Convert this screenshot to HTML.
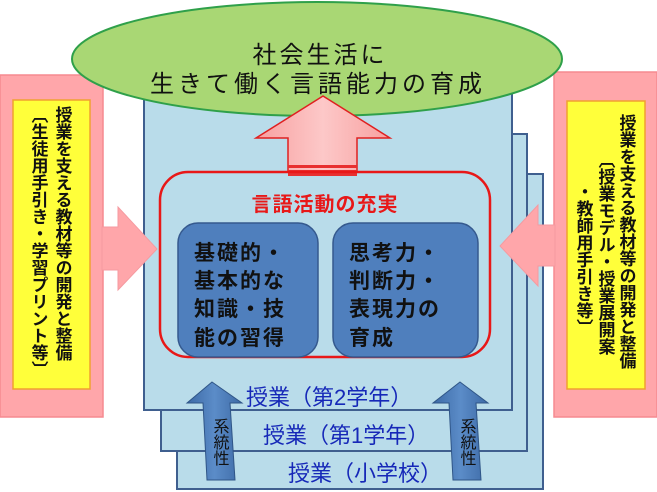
<!DOCTYPE html>
<html><head><meta charset="utf-8"><style>
html,body{margin:0;padding:0;background:#fff;}
svg{display:block;font-family:"Liberation Sans","Noto Sans CJK JP",sans-serif;}
</style></head><body>
<svg width="657" height="492" viewBox="0 0 657 492" xmlns="http://www.w3.org/2000/svg">
<defs>
<linearGradient id="bl" x1="0" y1="0" x2="1" y2="0"><stop offset="0" stop-color="#3d6aa6"/><stop offset="0.5" stop-color="#5b8cc8"/><stop offset="1" stop-color="#3d6aa6"/></linearGradient>
<linearGradient id="rd" x1="0" y1="0" x2="1" y2="0"><stop offset="0" stop-color="#f7a0a0"/><stop offset="0.5" stop-color="#fdc8c8"/><stop offset="1" stop-color="#f7a0a0"/></linearGradient>
</defs>
<rect x="177" y="174" width="366" height="315" fill="#b9dcea" stroke="#3f5f8f" stroke-width="2"/>
<rect x="161" y="134" width="366" height="317" fill="#b9dcea" stroke="#3f5f8f" stroke-width="2"/>
<rect x="144" y="80" width="368" height="330" fill="#b9dcea" stroke="#3f5f8f" stroke-width="2"/>
<rect x="0" y="75" width="103" height="342" fill="#ffa6aa" stroke="#f58a90" stroke-width="1.5"/>
<rect x="13" y="100" width="77" height="289" fill="#ffff3a" stroke="#f0a030" stroke-width="1.5"/>
<rect x="554" y="72" width="103" height="345" fill="#ffa6aa" stroke="#f58a90" stroke-width="1.5"/>
<rect x="567" y="101" width="78" height="288" fill="#ffff3a" stroke="#f0a030" stroke-width="1.5"/>
<polygon points="102,227 118,227 118,207 157,249 118,290 118,270 102,270" fill="#ffa6aa" stroke="#f59aa0" stroke-width="1"/>
<polygon points="555,225 538,225 538,205 500,246 538,286 538,266 555,266" fill="#ffa6aa" stroke="#f59aa0" stroke-width="1"/>
<ellipse cx="317" cy="59" rx="245" ry="57" fill="#a9d774" stroke="#2fa04a" stroke-width="2"/>
<text x="320" y="63" font-size="24" text-anchor="middle" fill="#111" letter-spacing="3">社会生活に</text>
<text x="318" y="92" font-size="24" text-anchor="middle" fill="#111" letter-spacing="4">生きて働く言語能力の育成</text>
<polygon points="323,96 390,138 357,138 357,172 288,172 288,138 256,138" fill="url(#rd)" stroke="#e02020" stroke-width="1.5"/>
<rect x="288" y="165" width="69" height="3" fill="#e83030"/>
<rect x="288" y="170" width="69" height="6" fill="#e83030"/>
<rect x="160" y="172" width="330" height="185" rx="28" fill="none" stroke="#e81818" stroke-width="2.5"/>
<text x="325" y="211" font-size="20" font-weight="bold" text-anchor="middle" fill="#e81818" letter-spacing="1">言語活動の充実</text>
<rect x="178" y="223" width="140" height="134" rx="20" fill="#4f7fbd" stroke="#35598e" stroke-width="1.5"/>
<rect x="333" y="223" width="145" height="134" rx="20" fill="#4f7fbd" stroke="#35598e" stroke-width="1.5"/>
<g font-size="21" font-weight="bold" fill="#111" letter-spacing="2">
<text x="194" y="260">基礎的・</text>
<text x="194" y="288">基本的な</text>
<text x="194" y="316">知識・技</text>
<text x="194" y="345">能の習得</text>
<text x="349" y="260">思考力・</text>
<text x="349" y="288">判断力・</text>
<text x="349" y="316">表現力の</text>
<text x="349" y="345">育成</text>
</g>
<g font-size="22" fill="#1628b8">
<text x="246" y="405">授業（第2学年）</text>
<text x="263" y="443">授業（第1学年）</text>
<text x="288" y="481">授業（小学校）</text>
</g>
<polygon points="212,382 242,403 230,403 235,480 207,480 203,403 187,403" fill="url(#bl)" stroke="#2f5587" stroke-width="1"/>
<polygon points="460,382 488,403 476,403 481,480 453,480 449,403 433,403" fill="url(#bl)" stroke="#2f5587" stroke-width="1"/>
<g font-size="16" fill="#111" style="writing-mode:vertical-rl">
<text x="219" y="418">系統性</text>
<text x="466" y="418">系統性</text>
</g>
<g font-size="17" font-weight="bold" fill="#111" style="writing-mode:vertical-rl">
<text x="62" y="106">授業を支える教材等の開発と整備</text>
<text x="38" y="106">〔生徒用手引き・学習プリント等〕</text>
<text x="626" y="114">授業を支える教材等の開発と整備</text>
<text x="605" y="151">〔授業モデル・授業展開案</text>
<text x="583" y="183">・教師用手引き等〕</text>
</g>
</svg>
</body></html>
